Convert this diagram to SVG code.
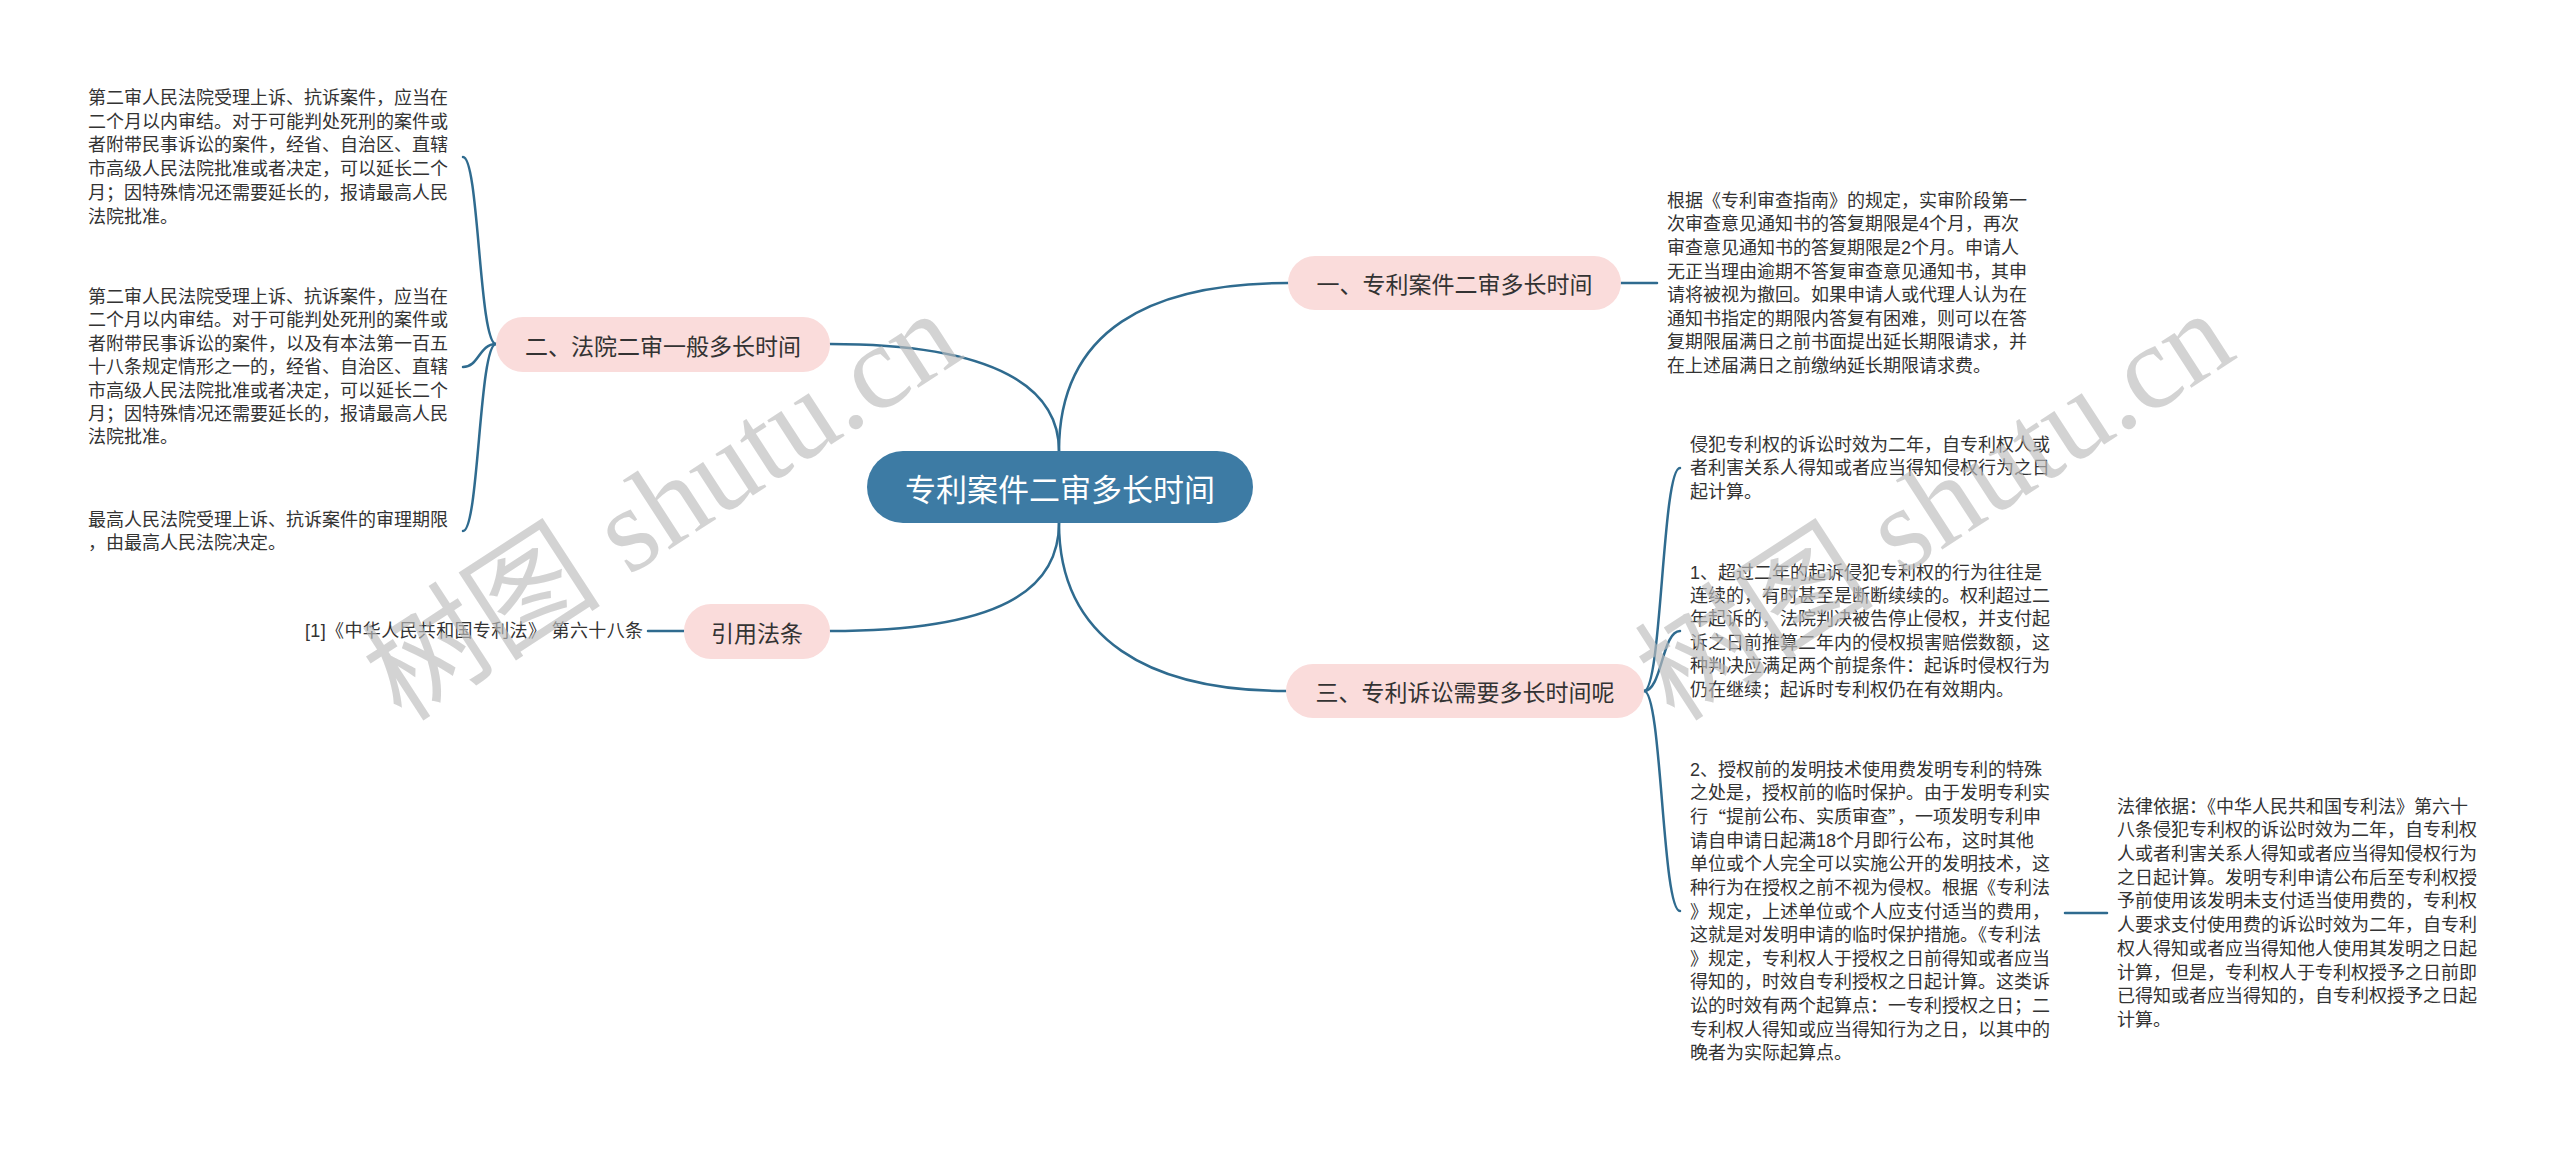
<svg xmlns="http://www.w3.org/2000/svg" width="2560" height="1153" viewBox="0 0 2560 1153">
<style>
.bg{fill:#ffffff}
.conn{fill:none;stroke:#2f6b8f;stroke-width:2.5;stroke-linecap:round}
.root{fill:#3d7ba4}
.rootText{font-family:"Noto Sans CJK SC","Noto Sans",sans-serif;font-size:31px;fill:#ffffff}
.branch{fill:#fadcdb}
.branchText{font-family:"Noto Sans CJK SC","Noto Sans",sans-serif;font-size:23px;fill:#333333}
.leaf{font-family:"Liberation Sans","Noto Sans CJK SC",sans-serif;font-size:18px;fill:#333333}
.cjk{font-family:"Noto Sans CJK SC",sans-serif}
.wm{font-family:"Liberation Serif","Noto Sans CJK SC",serif;font-size:120px;fill:#bdbdbd;opacity:0.65}
</style>
<rect class="bg" x="0" y="0" width="2560" height="1153"/>

<g id="connectors">
<path class="conn" d="M1059 451 C1059 330 1150 283 1288 283"/>
<path class="conn" d="M1059 451 C1059 390 1000 344 830 344"/>
<path class="conn" d="M1059 523 C1059 590 1000 631 830 631"/>
<path class="conn" d="M1059 523 C1059 640 1150 691 1286 691"/>
<path class="conn" d="M1621 283 L1657 283"/>
<path class="conn" d="M496 344 C479 344 479 157 463 157"/>
<path class="conn" d="M496 344 C479 344 479 367 463 367"/>
<path class="conn" d="M496 344 C479 344 479 531 463 531"/>
<path class="conn" d="M684 631 L648 631"/>
<path class="conn" d="M1644 691 C1662 691 1662 468 1680 468"/>
<path class="conn" d="M1644 691 C1662 691 1662 631 1680 631"/>
<path class="conn" d="M1644 691 C1662 691 1662 911 1680 911"/>
<path class="conn" d="M2065 913 L2107 913"/>
</g>

<g id="root">
<rect class="root" x="867" y="451" width="386" height="72" rx="36"/>
<text class="rootText" x="1060" y="487" text-anchor="middle" dominant-baseline="central">专利案件二审多长时间</text>
</g>

<g id="branch1">
<rect class="branch" x="1288" y="256" width="333" height="54" rx="27"/>
<text class="branchText" x="1454.5" y="283" text-anchor="middle" dominant-baseline="central">一、专利案件二审多长时间</text>
</g>

<g id="branch2">
<rect class="branch" x="496" y="317" width="334" height="55" rx="27"/>
<text class="branchText" x="663" y="344.5" text-anchor="middle" dominant-baseline="central">二、法院二审一般多长时间</text>
</g>

<g id="branch3">
<rect class="branch" x="684" y="604" width="146" height="55" rx="27"/>
<text class="branchText" x="757" y="631.5" text-anchor="middle" dominant-baseline="central">引用法条</text>
</g>

<g id="branch4">
<rect class="branch" x="1286" y="664" width="358" height="54" rx="27"/>
<text class="branchText" x="1465" y="691" text-anchor="middle" dominant-baseline="central">三、专利诉讼需要多长时间呢</text>
</g>

<g id="leaf-r1">
<text class="leaf" dominant-baseline="central">
<tspan x="1667" y="200.8">根据《专利审查指南》的规定，实审阶段第一</tspan>
<tspan x="1667" dy="23.6">次审查意见通知书的答复期限是4个月，再次</tspan>
<tspan x="1667" dy="23.6">审查意见通知书的答复期限是2个月。申请人</tspan>
<tspan x="1667" dy="23.6">无正当理由逾期不答复审查意见通知书，其申</tspan>
<tspan x="1667" dy="23.6">请将被视为撤回。如果申请人或代理人认为在</tspan>
<tspan x="1667" dy="23.6">通知书指定的期限内答复有困难，则可以在答</tspan>
<tspan x="1667" dy="23.6">复期限届满日之前书面提出延长期限请求，并</tspan>
<tspan x="1667" dy="23.6">在上述届满日之前缴纳延长期限请求费。</tspan>
</text>
</g>

<g id="leaf-l1">
<text class="leaf" dominant-baseline="central">
<tspan x="88" y="98">第二审人民法院受理上诉、抗诉案件，应当在</tspan>
<tspan x="88" dy="23.7">二个月以内审结。对于可能判处死刑的案件或</tspan>
<tspan x="88" dy="23.7">者附带民事诉讼的案件，经省、自治区、直辖</tspan>
<tspan x="88" dy="23.7">市高级人民法院批准或者决定，可以延长二个</tspan>
<tspan x="88" dy="23.7">月；因特殊情况还需要延长的，报请最高人民</tspan>
<tspan x="88" dy="23.7">法院批准。</tspan>
</text>
</g>

<g id="leaf-l2">
<text class="leaf" dominant-baseline="central">
<tspan x="88" y="297">第二审人民法院受理上诉、抗诉案件，应当在</tspan>
<tspan x="88" dy="23.4">二个月以内审结。对于可能判处死刑的案件或</tspan>
<tspan x="88" dy="23.4">者附带民事诉讼的案件，以及有本法第一百五</tspan>
<tspan x="88" dy="23.4">十八条规定情形之一的，经省、自治区、直辖</tspan>
<tspan x="88" dy="23.4">市高级人民法院批准或者决定，可以延长二个</tspan>
<tspan x="88" dy="23.4">月；因特殊情况还需要延长的，报请最高人民</tspan>
<tspan x="88" dy="23.4">法院批准。</tspan>
</text>
</g>

<g id="leaf-l3">
<text class="leaf" dominant-baseline="central">
<tspan x="88" y="519.5">最高人民法院受理上诉、抗诉案件的审理期限</tspan>
<tspan x="88" dy="23.6">，由最高人民法院决定。</tspan>
</text>
</g>

<g id="leaf-cite">
<text class="leaf" x="643" y="631" text-anchor="end" dominant-baseline="central" textLength="338" lengthAdjust="spacing">[1]《中华人民共和国专利法》 第六十八条</text>
</g>

<g id="leaf-r2">
<text class="leaf" dominant-baseline="central">
<tspan x="1690" y="444.5">侵犯专利权的诉讼时效为二年，自专利权人或</tspan>
<tspan x="1690" dy="23.6">者利害关系人得知或者应当得知侵权行为之日</tspan>
<tspan x="1690" dy="23.6">起计算。</tspan>
</text>
</g>

<g id="leaf-r3">
<text class="leaf" dominant-baseline="central">
<tspan x="1690" y="572.5">1、超过二年的起诉侵犯专利权的行为往往是</tspan>
<tspan x="1690" dy="23.4">连续的，有时甚至是断断续续的。权利超过二</tspan>
<tspan x="1690" dy="23.4">年起诉的，法院判决被告停止侵权，并支付起</tspan>
<tspan x="1690" dy="23.4">诉之日前推算二年内的侵权损害赔偿数额，这</tspan>
<tspan x="1690" dy="23.4">种判决应满足两个前提条件：起诉时侵权行为</tspan>
<tspan x="1690" dy="23.4">仍在继续；起诉时专利权仍在有效期内。</tspan>
</text>
</g>

<g id="leaf-r4">
<text class="leaf" dominant-baseline="central">
<tspan x="1690" y="769.6">2、授权前的发明技术使用费发明专利的特殊</tspan>
<tspan x="1690" dy="23.65">之处是，授权前的临时保护。由于发明专利实</tspan>
<tspan x="1690" dy="23.65">行<tspan class="cjk">“</tspan>提前公布、实质审查<tspan class="cjk">”</tspan>，一项发明专利申</tspan>
<tspan x="1690" dy="23.65">请自申请日起满18个月即行公布，这时其他</tspan>
<tspan x="1690" dy="23.65">单位或个人完全可以实施公开的发明技术，这</tspan>
<tspan x="1690" dy="23.65">种行为在授权之前不视为侵权。根据《专利法</tspan>
<tspan x="1690" dy="23.65">》规定，上述单位或个人应支付适当的费用，</tspan>
<tspan x="1690" dy="23.65">这就是对发明申请的临时保护措施。《专利法</tspan>
<tspan x="1690" dy="23.65">》规定，专利权人于授权之日前得知或者应当</tspan>
<tspan x="1690" dy="23.65">得知的，时效自专利授权之日起计算。这类诉</tspan>
<tspan x="1690" dy="23.65">讼的时效有两个起算点：一专利授权之日；二</tspan>
<tspan x="1690" dy="23.65">专利权人得知或应当得知行为之日，以其中的</tspan>
<tspan x="1690" dy="23.65">晚者为实际起算点。</tspan>
</text>
</g>

<g id="leaf-r5">
<text class="leaf" dominant-baseline="central">
<tspan x="2117" y="806.6">法律依据：《中华人民共和国专利法》第六十</tspan>
<tspan x="2117" dy="23.7">八条侵犯专利权的诉讼时效为二年，自专利权</tspan>
<tspan x="2117" dy="23.7">人或者利害关系人得知或者应当得知侵权行为</tspan>
<tspan x="2117" dy="23.7">之日起计算。发明专利申请公布后至专利权授</tspan>
<tspan x="2117" dy="23.7">予前使用该发明未支付适当使用费的，专利权</tspan>
<tspan x="2117" dy="23.7">人要求支付使用费的诉讼时效为二年，自专利</tspan>
<tspan x="2117" dy="23.7">权人得知或者应当得知他人使用其发明之日起</tspan>
<tspan x="2117" dy="23.7">计算，但是，专利权人于专利权授予之日前即</tspan>
<tspan x="2117" dy="23.7">已得知或者应当得知的，自专利权授予之日起</tspan>
<tspan x="2117" dy="23.7">计算。</tspan>
</text>
</g>

<g id="watermarks">
<text class="wm" x="662" y="506" text-anchor="middle" dominant-baseline="central" transform="rotate(-33 662 506)">树图 shutu.cn</text>
<text class="wm" x="1935" y="506" text-anchor="middle" dominant-baseline="central" transform="rotate(-33 1935 506)">树图 shutu.cn</text>
</g>
</svg>
